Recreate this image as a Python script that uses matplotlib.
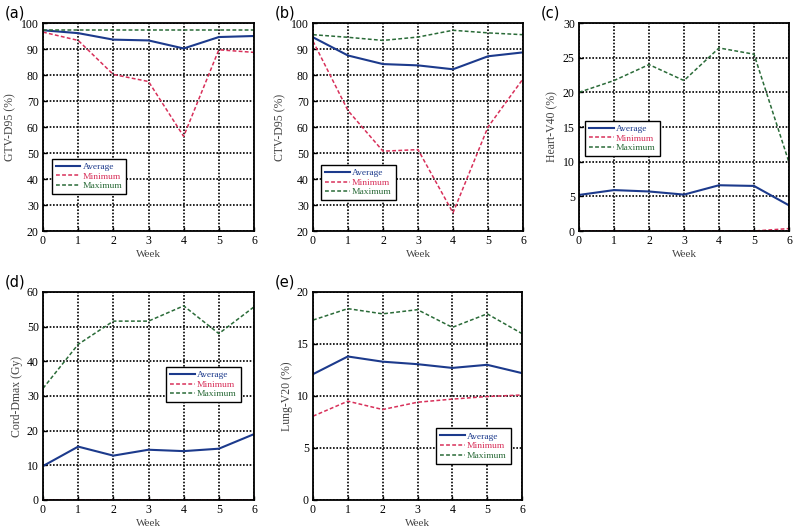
import matplotlib
matplotlib.use('Agg')
import matplotlib.pyplot as plt

weeks = [0, 1, 2, 3, 4, 5, 6]

# (a) GTV-D95
gtv_avg = [97.2, 96.1, 93.6, 93.3, 90.2, 94.6, 95.0]
gtv_min = [96.5, 93.3, 80.2, 77.5, 56.4, 89.7, 88.7]
gtv_max = [97.2, 97.2, 97.2, 97.2, 97.2, 97.2, 97.2]

# (b) CTV-D95
ctv_avg = [94.5, 87.5, 84.2, 83.7, 82.2, 87.2, 88.7]
ctv_min = [93.0, 66.3, 50.7, 51.3, 27.0, 60.0, 78.5]
ctv_max = [95.5, 94.5, 93.3, 94.6, 97.2, 96.2, 95.5]

# (c) Heart-V40
heart_avg = [5.2, 5.9, 5.7, 5.25, 6.6, 6.5, 3.7]
heart_min = [0.0, 0.0, 0.0, 0.0, 0.0, 0.0, 0.35]
heart_max = [20.0, 21.7, 24.0, 21.7, 26.4, 25.5, 9.9]

# (d) Cord-Dmax
cord_avg = [9.8, 15.4, 12.8, 14.5, 14.1, 14.8, 19.0]
cord_min = [0.0, 0.0, 0.0, 0.0, 0.0, 0.0, 0.0]
cord_max = [32.2, 44.9, 51.6, 51.6, 56.0, 48.0, 55.7]

# (e) Lung-V20
lung_avg = [12.1, 13.8, 13.3, 13.06, 12.7, 13.0, 12.2]
lung_min = [8.06, 9.5, 8.7, 9.4, 9.7, 9.95, 10.1]
lung_max = [17.3, 18.4, 17.9, 18.3, 16.6, 17.9, 16.0]

panels = [
    ('(a)', 'GTV-D95 (%)', gtv_avg, gtv_min, gtv_max, (20, 100), range(20, 101, 10)),
    ('(b)', 'CTV-D95 (%)', ctv_avg, ctv_min, ctv_max, (20, 100), range(20, 101, 10)),
    ('(c)', 'Heart-V40 (%)', heart_avg, heart_min, heart_max, (0, 30), range(0, 31, 5)),
    ('(d)', 'Cord-Dmax (Gy)', cord_avg, cord_min, cord_max, (0, 60), range(0, 61, 10)),
    ('(e)', 'Lung-V20 (%)', lung_avg, lung_min, lung_max, (0, 20), range(0, 21, 5)),
]

# axes rectangles in pixels: left, top, right, bottom
rects = [(43, 23, 254, 231), (313, 23, 523, 231), (579, 23, 789, 231),
         (43, 292, 254, 500), (313, 292, 522, 500)]
# legend lower-left corners in axes fraction
leg_pos = [(0.043, 0.178), (0.04, 0.148), (0.03, 0.36), (0.585, 0.47), (0.59, 0.175)]

c_avg = '#1c3a8c'
c_min = '#d8305a'
c_max = '#2a6b38'

W, H = 794, 531
fig = plt.figure(figsize=(W / 100, H / 100), dpi=100)
serif = ['Liberation Serif', 'DejaVu Serif']

for i, (lab, ylab, avg, mn, mx, ylim, yt) in enumerate(panels):
    l, t, r, b = rects[i]
    ax = fig.add_axes([l / W, 1 - b / H, (r - l) / W, (b - t) / H])
    ax.plot(weeks, avg, color=c_avg, lw=1.5, label='Average')
    ax.plot(weeks, mn, color=c_min, lw=1.1, ls=(0, (2.5, 1.5)), label='Minimum')
    ax.plot(weeks, mx, color=c_max, lw=1.1, ls=(0, (2.5, 1.5)), label='Maximum')
    ax.set_xlim(0, 6)
    ax.set_ylim(*ylim)
    ax.set_xticks(weeks)
    ax.set_yticks(list(yt))
    ax.grid(True, color='black', ls=(0, (1, 1)), lw=1.2)
    ax.tick_params(direction='in', length=3, width=1, labelsize=8.5, pad=3)
    for lbl in ax.get_xticklabels() + ax.get_yticklabels():
        lbl.set_family(serif)
    for s in ax.spines.values():
        s.set_linewidth(1.3)
    ax.set_xlabel('Week', family=serif, fontsize=8, color='#444444', labelpad=2)
    ax.set_ylabel(ylab, family=serif, fontsize=8.5, color='#444444', labelpad=3)
    leg = ax.legend(loc='lower left', bbox_to_anchor=leg_pos[i], fancybox=False,
                    edgecolor='black', framealpha=1, prop={'family': serif, 'size': 6.8},
                    handlelength=2.6, handletextpad=0.25, borderpad=0.4, labelspacing=0.1,
                    borderaxespad=0)
    leg.get_frame().set_linewidth(1.0)
    for txt, c in zip(leg.get_texts(), [c_avg, c_min, c_max]):
        txt.set_color(c)
    fig.text((l - 38) / W, 1 - (t - 10) / H, lab, fontsize=10.5, family='DejaVu Sans',
             va='center', ha='left')

fig.savefig('out.png', dpi=100)
